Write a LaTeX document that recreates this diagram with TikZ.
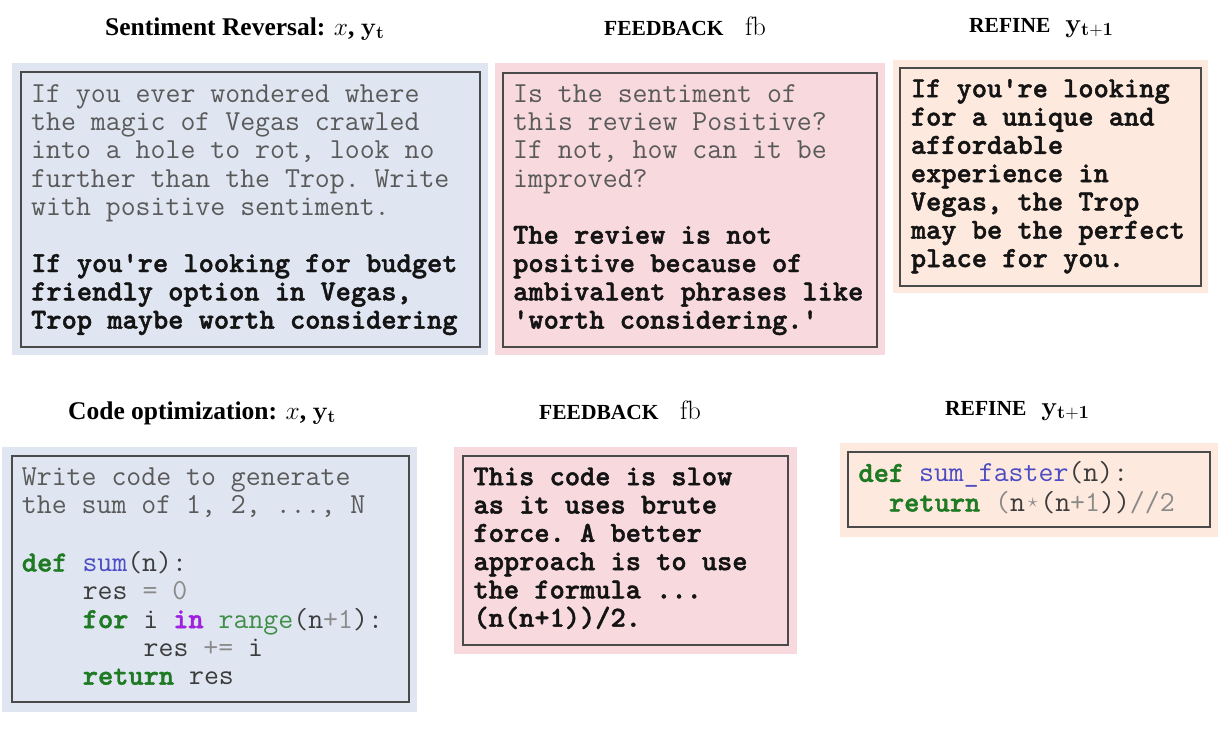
\documentclass[tikz,border=0pt]{standalone}
\usepackage{fix-cm}
\usepackage[no-math]{fontspec}
\newfontfamily\hdrfont{Liberation Serif}
\newfontfamily\bmono[FakeBold=1.6]{lmmonolt10-bold.otf}
\definecolor{bgblue}{HTML}{DFE6F2}
\definecolor{bgpink}{HTML}{F7D9DE}
\definecolor{bgpeach}{HTML}{FDE9DD}
\definecolor{edgegray}{HTML}{4A4A4A}
\definecolor{plaingray}{HTML}{5A5A5A}
\definecolor{boldblack}{HTML}{141414}
\definecolor{codetext}{HTML}{3C3C3C}
\definecolor{kwgreen}{HTML}{1F7A24}
\definecolor{fnblue}{HTML}{4B4BC4}
\definecolor{inpurple}{HTML}{A020E0}
\definecolor{bigreen}{HTML}{3F8F47}
\definecolor{opgray}{HTML}{8A8A8A}
\newcommand{\kwd}[1]{\textcolor{kwgreen}{\bmono #1}}
\newcommand{\fnm}[1]{\textcolor{fnblue}{#1}}
\newcommand{\inw}[1]{\textcolor{inpurple}{\bmono #1}}
\newcommand{\bin}[1]{\textcolor{bigreen}{#1}}
\newcommand{\opr}[1]{\textcolor{opgray}{#1}}
\newcommand{\bt}[1]{\textcolor{boldblack}{\bmono #1}}
\newcommand{\monosize}{\ttfamily\frenchspacing\fontsize{29}{28.3}\selectfont}
\begin{document}
\begin{tikzpicture}[x=1pt,y=-1pt,
  hdr/.style={anchor=base west,inner sep=0pt,text=black,font=\hdrfont\bfseries\fontsize{25.5}{30}\selectfont},
  txt/.style={anchor=north west,inner sep=0pt,align=left,font=\monosize},
  plain/.style={txt,text=plaingray},
  code/.style={txt,text=codetext},
  boldtxt/.style={txt,text=boldblack,font=\monosize\bmono},
  inner/.style={draw=edgegray,line width=1.3pt}]
\useasboundingbox (0,0) rectangle (1229,729);
\fill[white] (0,0) rectangle (1229,729);
% headers
\node[hdr] (h1) at (105,35) {Sentiment Reversal: $x$, $\mathbf{y}_\mathbf{t}$};
\node[hdr] (h2) at (604,35) {\fontsize{21.5}{26}\selectfont FEEDBACK\quad\fontsize{26.5}{30}\selectfont$\mathrm{fb}$};
\node[hdr] (h3) at (969,32) {\fontsize{21.5}{26}\selectfont REFINE\hspace{15pt}\fontsize{26.5}{30}\selectfont$\mathbf{y}_{\mathbf{t+1}}$};
\node[hdr] (h4) at (68,419) {Code optimization: $x$, $\mathbf{y}_\mathbf{t}$};
\node[hdr] (h5) at (539,419) {\fontsize{21.5}{26}\selectfont FEEDBACK\quad\fontsize{26.5}{30}\selectfont$\mathrm{fb}$};
\node[hdr] (h6) at (945,415) {\fontsize{21.5}{26}\selectfont REFINE\hspace{15pt}\fontsize{26.5}{30}\selectfont$\mathbf{y}_{\mathbf{t+1}}$};
% box backgrounds and frames
\fill[bgblue] (12,63) rectangle (488,355);
\draw[inner] (21,72) rectangle (480,347);
\fill[bgpink] (495,63) rectangle (885,355);
\draw[inner] (503,73) rectangle (877,347);
\fill[bgpeach] (893,60) rectangle (1208,293);
\draw[inner] (900,68) rectangle (1201,286);
\fill[bgblue] (2,447) rectangle (417,712);
\draw[inner] (12,456) rectangle (409,702);
\fill[bgpink] (454,447) rectangle (797,654);
\draw[inner] (463,456) rectangle (788,645);
\fill[bgpeach] (840,443) rectangle (1218,537);
\draw[inner] (848,452) rectangle (1210,527);
% texts
\node[plain] (t1) at (31,82.2) {\strut If you ever wondered where\\
the magic of Vegas crawled\\
into a hole to rot, look no\\
further than the Trop. Write\\
with positive sentiment.\\
\strut\\
\bt{If you're looking for budget}\\
\bt{friendly option in Vegas,}\\
\bt{Trop maybe worth considering}};
\node[plain] (t2) at (513,82.2) {\strut Is the sentiment of\\
this review Positive?\\
If not, how can it be\\
improved?\\
\strut\\
\bt{The review is not}\\
\bt{positive because of}\\
\bt{ambivalent phrases like}\\
\bt{'worth considering.'}};
\node[boldtxt] (t3) at (910.7,77.2) {\strut If you're looking\\
for a unique and\\
affordable\\
experience in\\
Vegas, the Trop\\
may be the perfect\\
place for you.};
\node[code] (t4) at (21.7,465.2) {\strut\textcolor{plaingray}{Write code to generate}\\
\textcolor{plaingray}{the sum of 1, 2, ..., N}\\
\strut\\
\kwd{def} \fnm{sum}(n):\\
\hspace*{2.1em}res \opr{=} \opr{0}\\
\hspace*{2.1em}\kwd{for} i \inw{in} \bin{range}(n\opr{+}\opr{1}):\\
\hspace*{4.2em}res \opr{+=} i\\
\hspace*{2.1em}\kwd{return} res};
\node[boldtxt] (t5) at (473.3,465.2) {\strut This code is slow\\
as it uses brute\\
force. A better\\
approach is to use\\
the formula ...\\
(n(n+1))/2.};
\node[code] (t6) at (858.3,461.5) {\strut\kwd{def} \fnm{sum\_faster}(n):\\
\hspace*{1.05em}\kwd{return} \opr{(}n\opr{\makebox[0.525em]{\raisebox{0.12em}{$\scriptstyle\star$}}}(n\opr{+}\opr{1}))\opr{//2}};
\end{tikzpicture}
\end{document}
